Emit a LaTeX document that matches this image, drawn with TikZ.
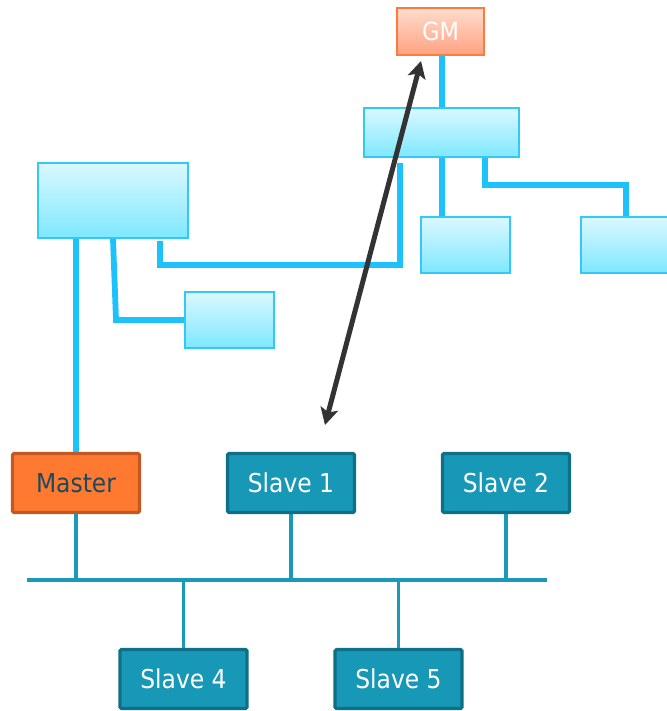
\documentclass[tikz,border=0pt]{standalone}
\usepackage{fontspec}
\newfontfamily\lblfont{DejaVu Sans Condensed}
\usetikzlibrary{arrows.meta}
\definecolor{cyanline}{HTML}{1EC2FA}
\definecolor{cyanborder}{HTML}{34C8F6}
\definecolor{cyantop}{HTML}{DAF8FF}
\definecolor{cyanbot}{HTML}{7EE8FF}
\definecolor{gmtop}{HTML}{FFDCCC}
\definecolor{gmbot}{HTML}{FFA282}
\definecolor{gmborder}{HTML}{FF7A3A}
\definecolor{tealfill}{HTML}{1798B6}
\definecolor{tealborder}{HTML}{0E6F86}
\definecolor{busline}{HTML}{1A9AB8}
\definecolor{masterfill}{HTML}{FF7A30}
\definecolor{masterborder}{HTML}{C25822}
\definecolor{mastertext}{HTML}{1B4A5E}
\definecolor{arrowgray}{HTML}{333333}
\tikzset{
  cyanbox/.style={draw=cyanborder, line width=2pt, top color=cyantop, bottom color=cyanbot, inner sep=0pt},
  gmbox/.style={draw=gmborder, line width=2pt, top color=gmtop, bottom color=gmbot, inner sep=0pt,
     text=white, font=\lblfont\fontsize{25}{28}\selectfont},
  tealbox/.style={draw=tealborder, fill=tealfill, line width=3.2pt, rounded corners=1.5pt, inner sep=0pt,
     minimum width=127pt, minimum height=59pt, text=white, font=\lblfont\fontsize{26}{30}\selectfont},
  masterbox/.style={tealbox, draw=masterborder, fill=masterfill, text=mastertext},
  cyanlink/.style={draw=cyanline, line width=5.8pt, line join=miter, line cap=butt},
  buslink/.style={draw=busline, line width=3.6pt},
  sync/.style={draw=arrowgray, line width=5pt, {Stealth[length=17pt,width=18pt,inset=4pt]}-{Stealth[length=17pt,width=18pt,inset=4pt]}}
}
\begin{document}
\begin{tikzpicture}[x=1pt,y=-1pt]
\useasboundingbox (0,0) rectangle (666,711);
% upper network
\node[gmbox, minimum width=87pt, minimum height=47pt] (GM) at (440.5,31.5) {GM};
\node[cyanbox, minimum width=155pt, minimum height=49pt] (A) at (441.5,132.5) {};
\node[cyanbox, minimum width=89pt, minimum height=56pt] (B) at (465.5,245) {};
\node[cyanbox, minimum width=100pt, minimum height=56pt] (C) at (631,245) {};
\node[cyanbox, minimum width=150pt, minimum height=75pt] (D) at (113,200.5) {};
\node[cyanbox, minimum width=89pt, minimum height=56pt] (E) at (229.5,320) {};
% lower network
\node[masterbox] (M) at (76,483) {Master};
\node[tealbox] (S1) at (291,483) {Slave 1};
\node[tealbox] (S2) at (506,483) {Slave 2};
\node[tealbox] (S4) at (183.5,679) {Slave 4};
\node[tealbox] (S5) at (398.5,679) {Slave 5};
\coordinate (busL) at (27,580);
\coordinate (busR) at (547,580);
% cyan links
\draw[cyanlink] (GM.south -| 442,0) -- (A.north -| 442,0);
\draw[cyanlink] (A.south -| 442,0) -- (B.north -| 442,0);
\draw[cyanlink] (A.south -| 485,0) -- (485,185) -- (626,185) -- (C.north -| 626,0);
\draw[cyanlink] (400,163) -- (400,265) -- (160,265) -- (160,241);
\draw[cyanlink] (D.south -| 76,0) -- (M.north);
\draw[cyanlink] (D.south -| 113,0) -- (116,320) -- (E.west);
% bus
\draw[buslink] (busL) -- (busR);
\draw[buslink] (M.south) -- (M.south |- busL);
\draw[buslink] (S1.south) -- (S1.south |- busL);
\draw[buslink] (S2.south) -- (S2.south |- busL);
\draw[buslink] (S4.north) -- (S4.north |- busL);
\draw[buslink] (S5.north) -- (S5.north |- busL);
% sync arrow
\coordinate (arrTop) at (421,61);
\coordinate (arrBot) at (325,425);
\draw[sync] (arrBot) -- (arrTop);
\end{tikzpicture}
\end{document}
